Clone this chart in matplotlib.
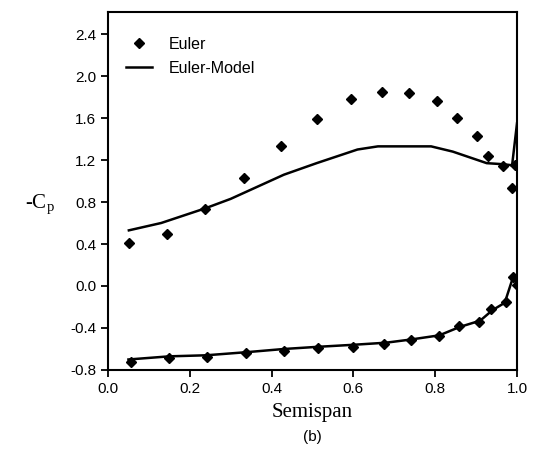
import matplotlib
matplotlib.use('Agg')
import matplotlib.pyplot as plt

# Euler solution points, upper surface
euler_up_x = [0.051, 0.145, 0.238, 0.333, 0.424, 0.51, 0.593, 0.671, 0.735, 0.804, 0.853, 0.902, 0.929, 0.966, 0.995, 0.988]
euler_up_y = [0.41, 0.50, 0.73, 1.03, 1.33, 1.59, 1.78, 1.85, 1.84, 1.76, 1.60, 1.43, 1.24, 1.14, 1.15, 0.93]

# Euler solution points, lower surface
euler_lo_x = [0.056, 0.15, 0.243, 0.338, 0.43, 0.513, 0.598, 0.676, 0.742, 0.809, 0.858, 0.907, 0.936, 0.973, 0.99, 1.0]
euler_lo_y = [-0.72, -0.69, -0.68, -0.64, -0.62, -0.59, -0.58, -0.55, -0.51, -0.48, -0.38, -0.34, -0.22, -0.15, 0.09, 0.01]

# Euler-Model curve, upper surface
model_up_x = [0.051, 0.13, 0.238, 0.30, 0.43, 0.51, 0.61, 0.66, 0.79, 0.843, 0.926, 0.966, 0.988, 1.0]
model_up_y = [0.53, 0.60, 0.74, 0.83, 1.06, 1.17, 1.30, 1.33, 1.33, 1.28, 1.17, 1.16, 1.15, 1.55]

# Euler-Model curve, lower surface
model_lo_x = [0.05, 0.15, 0.24, 0.34, 0.43, 0.51, 0.60, 0.68, 0.74, 0.81, 0.86, 0.91, 0.94, 0.97, 0.99, 1.0]
model_lo_y = [-0.70, -0.67, -0.66, -0.63, -0.60, -0.58, -0.56, -0.54, -0.51, -0.47, -0.39, -0.33, -0.23, -0.16, 0.08, 0.02]

x_ticks = [0.0, 0.2, 0.4, 0.6, 0.8, 1.0]
y_ticks = [-0.8, -0.4, 0.0, 0.4, 0.8, 1.2, 1.6, 2.0, 2.4]

plt.rcParams['font.family'] = ['Liberation Sans', 'DejaVu Sans']

fig = plt.figure(figsize=(5.33, 4.70), dpi=100)
ax = fig.add_axes([0.2026, 0.2128, 0.7674, 0.7617])

ax.plot(euler_up_x, euler_up_y, 'D', color='black', markersize=5.2, label='Euler')
ax.plot(euler_lo_x, euler_lo_y, 'D', color='black', markersize=5.2)
ax.plot(model_up_x, model_up_y, '-', color='black', linewidth=1.8, label='Euler-Model')
ax.plot(model_lo_x, model_lo_y, '-', color='black', linewidth=1.8)

ax.set_xlim(0.0, 1.0)
ax.set_ylim(-0.8, 2.61)
ax.set_xticks(x_ticks)
ax.set_xticklabels(['%.1f' % v for v in x_ticks], fontsize=11)
ax.set_yticks(y_ticks)
ax.set_yticklabels(['%.1f' % v for v in y_ticks], fontsize=11)
ax.tick_params(direction='out', length=5, width=1.3)
for s in ax.spines.values():
    s.set_linewidth(1.5)

ax.set_xlabel('Semispan', family='Liberation Serif', fontsize=15, labelpad=5)
fig.text(0.075, 0.565, r'-C$_\mathregular{p}$', family='Liberation Serif', fontsize=15,
         ha='center', va='center')
fig.text(0.587, 0.07, '(b)', fontsize=11, ha='center', va='center')

ax.legend(loc='upper left', bbox_to_anchor=(0.005, 0.975), frameon=False, fontsize=11.5,
          handlelength=1.6, handletextpad=1.1, borderaxespad=0.6, labelspacing=0.55)

fig.savefig('out.png', dpi=100)
